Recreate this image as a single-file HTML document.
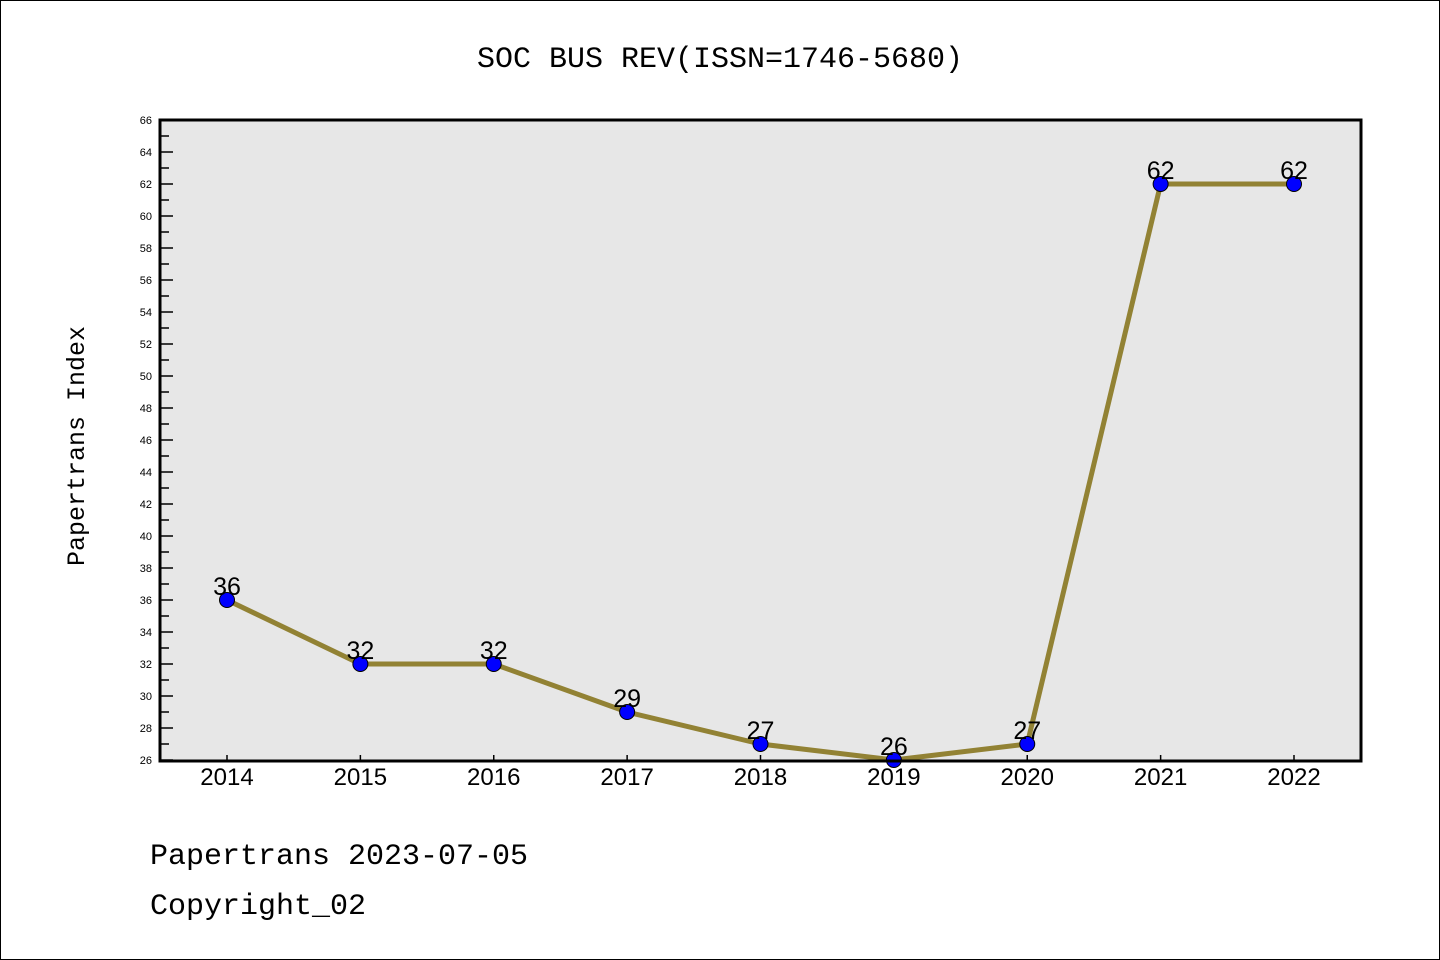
<!DOCTYPE html>
<html><head><meta charset="utf-8"><style>
body{margin:0;background:#fff}
svg{display:block}
</style></head><body>
<svg width="1440" height="960" xmlns="http://www.w3.org/2000/svg">
<rect x="0.5" y="0.5" width="1439" height="959" fill="#fff" stroke="#000"/>
<text x="720" y="67" text-anchor="middle" font-family="Liberation Mono, monospace" font-size="30">SOC BUS REV(ISSN=1746-5680)</text>
<rect x="160" y="120" width="1201" height="641" fill="#e7e7e7"/>
<g id="ticks"></g>
<g id="series"></g>
<rect x="160" y="120" width="1201" height="641" fill="none" stroke="#000" stroke-width="3"/>
<text transform="translate(84,446) rotate(-90)" text-anchor="middle" font-family="Liberation Mono, monospace" font-size="25">Papertrans Index</text>
<text x="150" y="864" font-family="Liberation Mono, monospace" font-size="30">Papertrans 2023-07-05</text>
<text x="150" y="914" font-family="Liberation Mono, monospace" font-size="30">Copyright_02</text>
</svg>
<script>
const years = ["2014","2015","2016","2017","2018","2019","2020","2021","2022"];
const values = [36,32,32,29,27,26,27,62,62];
const yMin = 26, yMax = 66;
const NS="http://www.w3.org/2000/svg";
const X = i => 227 + i*(1294-227)/(years.length-1);
const Y = v => 760 - (v-yMin)*(640/(yMax-yMin));
function mk(tag, attrs, parent){const e=document.createElementNS(NS,tag);for(const k in attrs)e.setAttribute(k,attrs[k]);parent.appendChild(e);return e;}
const tg=document.getElementById('ticks');
for(let v=yMin; v<=yMax; v++){
  const major=(v%2===0);
  const t=mk('line',{x1:160,x2:major?173:169,y1:Y(v),y2:Y(v),stroke:'#000','stroke-width':1.5},tg);
  
  
  if(major){
    const l=mk('text',{x:152,y:Y(v)+4,'text-anchor':'end','font-family':'Liberation Sans, sans-serif','font-size':11},tg);
    l.textContent=v;
    
    
  }
}
years.forEach((yr,i)=>{
  const t=mk('line',{x1:X(i),x2:X(i),y1:761,y2:755,stroke:'#000','stroke-width':1.5},tg);
  
  
  const l=mk('text',{x:X(i),y:785,'text-anchor':'middle','font-family':'Liberation Sans, sans-serif','font-size':24},tg);
  l.textContent=yr;
  
  
});
const sg=document.getElementById('series');
const line=mk('polyline',{points:values.map((v,i)=>X(i)+','+Y(v)).join(' '),fill:'none',stroke:'#928234','stroke-width':5,'stroke-linejoin':'round'},sg);


values.forEach((v,i)=>{
  const c=mk('circle',{cx:X(i),cy:Y(v),r:7.5,fill:'#0000ff',stroke:'#000','stroke-width':1},sg);
  
  
  const l=mk('text',{x:X(i),y:Y(v)-5,'text-anchor':'middle','font-family':'Liberation Sans, sans-serif','font-size':25},sg);
  l.textContent=v;
  
  
});
</script>
</body></html>
